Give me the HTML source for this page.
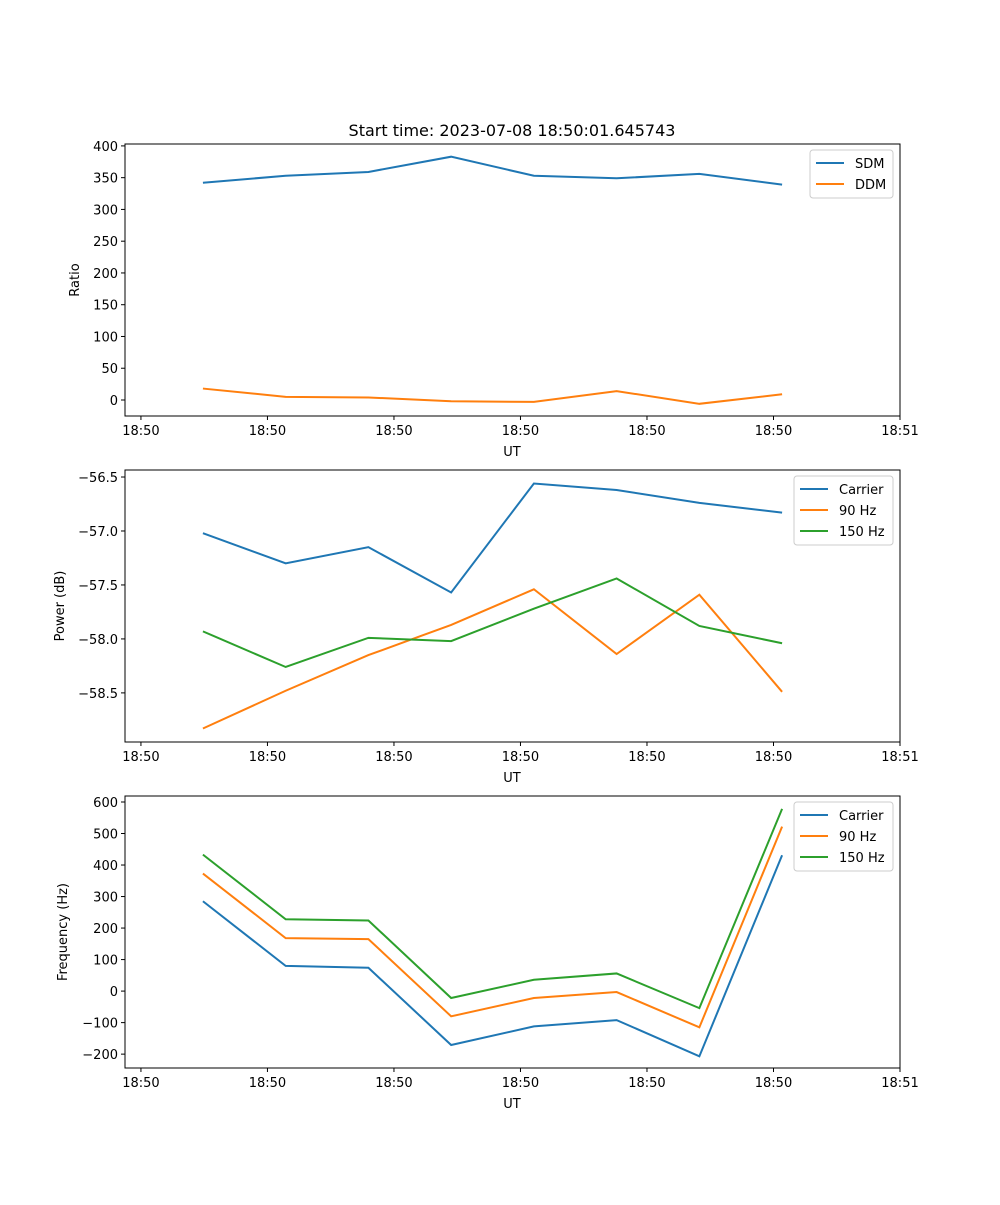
<!DOCTYPE html>
<html><head><meta charset="utf-8"><style>
body{margin:0;background:#fff}
svg text{font-family:"DejaVu Sans","Liberation Sans",sans-serif;font-size:13px;fill:#000}
</style></head><body>
<svg id="fig" width="1000" height="1200" xmlns="http://www.w3.org/2000/svg">
<rect width="1000" height="1200" fill="#fff"/>
<text x="512" y="136" text-anchor="middle" style="font-size:16px">Start time: 2023-07-08 18:50:01.645743</text>
</svg>
<script>
// time in seconds relative to 18:50:00 tick
const times = [4.9, 11.44, 17.98, 24.52, 31.06, 37.6, 44.14, 50.68];
const xTickVals = [0, 10, 20, 30, 40, 50, 60];
const xTickLabels = ["18:50","18:50","18:50","18:50","18:50","18:50","18:51"];
const sdm = [342, 353, 359, 383, 353, 349, 356, 339];
const ddm = [18, 5, 4, -2, -3, 14, -6, 9];
const powCarrier = [-57.02, -57.30, -57.15, -57.57, -56.56, -56.62, -56.74, -56.83];
const pow90 = [-58.83, -58.48, -58.15, -57.87, -57.54, -58.14, -57.59, -58.49];
const pow150 = [-57.93, -58.26, -57.99, -58.02, -57.72, -57.44, -57.88, -58.04];
const freqCarrier = [285, 80, 74, -171, -112, -92, -207, 431];
const freq90 = [373, 168, 165, -80, -22, -3, -115, 522];
const freq150 = [433, 228, 224, -22, 36, 56, -54, 578];
const ratioTicks = [0,50,100,150,200,250,300,350,400];
const powTicks = [-58.5,-58.0,-57.5,-57.0,-56.5];
const freqTicks = [-200,-100,0,100,200,300,400,500,600];

const NS="http://www.w3.org/2000/svg";
const svg=document.getElementById('fig');
function mk(tag,attrs,parent){const e=document.createElementNS(NS,tag);for(const k in attrs)e.setAttribute(k,attrs[k]);(parent||svg).appendChild(e);return e;}
const L=125,R=900,XMIN=-1.26,XMAX=60;
function xs(t){return L+(t-XMIN)/(XMAX-XMIN)*(R-L);}
const C1='#1f77b4',C2='#ff7f0e',C3='#2ca02c';

function panel(name,top,bot,ymin,ymax,yticks,yfmt,ylabel,ylabelX,series,legend){
  const g=mk('g',{});
  
  
  const ys=v=>bot-(v-ymin)/(ymax-ymin)*(bot-top);
  series.forEach(s=>{
    const p=mk('polyline',{points:times.map((t,i)=>xs(t)+','+ys(s.vals[i])).join(' '),fill:'none',stroke:s.color,'stroke-width':2},g);
    
    
  });
  mk('rect',{x:L,y:top,width:R-L,height:bot-top,fill:'none',stroke:'#000','stroke-width':1},g);
  xTickVals.forEach((t,i)=>{
    const x=xs(t);
    mk('line',{x1:x,x2:x,y1:bot,y2:bot+4,stroke:'#000'},g);
    const tx=mk('text',{x:x,y:bot+19,'text-anchor':'middle'},g);
    tx.textContent=xTickLabels[i];
    
    
  });
  yticks.forEach(v=>{
    const y=ys(v);
    mk('line',{x1:L-4,x2:L,y1:y,y2:y,stroke:'#000'},g);
    const tx=mk('text',{x:L-7,y:y+5,'text-anchor':'end'},g);
    tx.textContent=yfmt(v);
    
    
  });
  const xl=mk('text',{x:512,y:bot+40,'text-anchor':'middle'},g);
  xl.textContent='UT';
  
  
  const cy=(top+bot)/2;
  const yl=mk('text',{x:ylabelX,y:cy,'text-anchor':'middle',transform:'rotate(-90 '+ylabelX+' '+cy+')'},g);
  yl.textContent=ylabel;
  
  
  const lg=mk('g',{},g);
  
  
  mk('rect',{x:legend.x,y:top+6,width:893-legend.x,height:series.length*21+6,rx:3,fill:'#fff',stroke:'#ccc'},lg);
  series.forEach((s,i)=>{
    const y=top+19+i*21;
    mk('line',{x1:legend.x+6,x2:legend.x+34,y1:y,y2:y,stroke:s.color,'stroke-width':2},lg);
    const t=mk('text',{x:legend.x+45,y:y+5},lg);
    t.textContent=s.label;
    
    
  });
}
const minus=s=>s.replace('-','\u2212');
panel('ratio',144,416,-25.2,403,ratioTicks,v=>minus(String(v)),'Ratio',79,
  [{key:'sdm',label:'SDM',color:C1,vals:sdm},{key:'ddm',label:'DDM',color:C2,vals:ddm}],{x:810});
panel('power',470,742,-58.955,-56.435,powTicks,v=>minus(v.toFixed(1)),'Power (dB)',64,
  [{key:'carrier',label:'Carrier',color:C1,vals:powCarrier},{key:'90hz',label:'90 Hz',color:C2,vals:pow90},{key:'150hz',label:'150 Hz',color:C3,vals:pow150}],{x:794});
panel('frequency',796,1068,-244,619,freqTicks,v=>minus(String(v)),'Frequency (Hz)',67,
  [{key:'carrier',label:'Carrier',color:C1,vals:freqCarrier},{key:'90hz',label:'90 Hz',color:C2,vals:freq90},{key:'150hz',label:'150 Hz',color:C3,vals:freq150}],{x:794});
</script>
</body></html>
